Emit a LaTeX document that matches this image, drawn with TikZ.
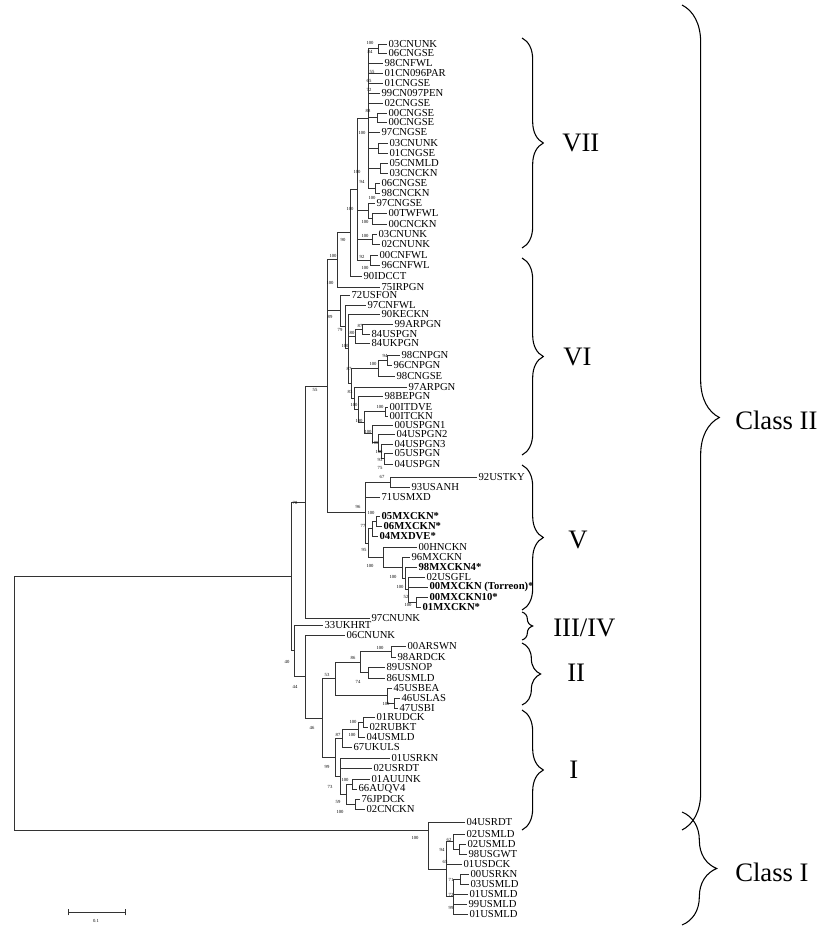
\documentclass[tikz,border=0pt]{standalone}
\usepackage{fontspec}
\setmainfont{Liberation Serif}
\usetikzlibrary{calc,decorations.pathreplacing}

\tikzset{
  branch/.style={line width=0.6pt, black!80},
  leaf/.style={anchor=west, inner sep=1pt, font=\fontsize{8}{8}\selectfont},
  mx/.style={leaf, font=\fontsize{8}{8}\selectfont\bfseries},
  boot/.style={inner sep=0pt, font=\fontsize{3.5}{3.5}\selectfont},
  grp/.style={decorate, decoration={brace, amplitude=#1}, line width=0.8pt},
  grplabel/.style={anchor=west, inner sep=0pt, font=\fontsize{20}{20}\selectfont},
}

% clade: name, x of its vertical, children (first and last set the span)
\newcommand\clade[3]{%
  \foreach \ch [count=\i] in {#3} {%
    \ifnum\i=1 \xdef\cfirst{\ch}\fi
    \xdef\clast{\ch}}%
  \coordinate (#1) at ($(\cfirst)!0.5!(\clast)$);
  \coordinate (#1) at (#2,0 |- #1);
  \foreach \ch in {#3} \draw[branch] (#1) |- (\ch);
}

\begin{document}
\begin{tikzpicture}[x=0.75pt, y=-0.75pt]
  \useasboundingbox (0,0) rectangle (838,935);

  % leaves
  \foreach \nm/\x/\y/\lbl in {
    a1/387/44/03CNUNK, a2/387/53/06CNGSE, a3/383/63/98CNFWL,
    a4/383/73/01CN096PAR, a5/383/83/01CNGSE, a6/380/93/99CN097PEN,
    a7/383/103/02CNGSE, a8/387/113/00CNGSE, a9/387/122/00CNGSE,
    a10/380/132/97CNGSE, a11/388/143/03CNUNK, a12/388/153/01CNGSE,
    a13/388/163/05CNMLD, a14/388/173/03CNCKN, a15/380/183/06CNGSE,
    a16/380/193/98CNCKN, a17/375/203/97CNGSE, a18/387/213/00TWFWL,
    a19/387/224/00CNCKN, a20/377/234/03CNUNK, a21/380/244/02CNUNK,
    a22/378/255/00CNFWL, a23/380/265/96CNFWL, a24/362/276/90IDCCT,
    a25/380/287/75IRPGN,
    b1/350/295/72USFON, b2/366/305/97CNFWL, b3/380/314/90KECKN,
    b4/393/324/99ARPGN, b5/370/334/84USPGN, b6/370/343/84UKPGN,
    b7/400/355/98CNPGN, b8/392/365/96CNPGN, b9/395/376/98CNGSE,
    b10/407/387/97ARPGN, b11/383/396/98BEPGN, b12/388/407/00ITDVE,
    b13/388/416/00ITCKN, b14/393/425/00USPGN1, b15/395/434/04USPGN2,
    b16/393/444/04USPGN3, b17/393/453/05USPGN, b18/393/464/04USPGN,
    c1/477/477/92USTKY, c2/410/487/93USANH, c3/380/497/71USMXD,
    c7/417/547/00HNCKN, c8/410/557/96MXCKN, c10/425/577/02USGFL,
    d1/370/618/97CNUNK, d2/323/625/33UKHRT, d3/345/635/06CNUNK,
    e1/406/646/00ARSWN, e2/396/657/98ARDCK, e3/385/667/89USNOP,
    e4/385/678/86USMLD, e5/392/688/45USBEA, e6/400/698/46USLAS,
    e7/398/708/47USBI,
    f1/375/717/01RUDCK, f2/368/727/02RUBKT, f3/365/737/04USMLD,
    f4/352/747/67UKULS, f5/390/758/01USRKN, f6/372/768/02USRDT,
    f7/370/779/01AUUNK, f8/357/789/66AUQV4, f9/360/799/76JPDCK,
    f10/365/809/02CNCKN,
    g1/465/822/04USRDT, g2/465/834/02USMLD, g3/466/844/02USMLD,
    g4/467/854/98USGWT, g5/462/864/01USDCK, g6/469/874/00USRKN,
    g7/469/884/03USMLD, g8/468/894/01USMLD, g9/467/904/99USMLD,
    g10/468/914/01USMLD}
    \node[leaf] (\nm) at (\x,\y) {\lbl};
  \foreach \nm/\x/\y/\lbl in {
    c4/380/516/05MXCKN*, c5/382/526/06MXCKN*, c6/378/536/04MXDVE*,
    c9/417/567/98MXCKN4*, c11/428/587/00MXCKN (Torreon)*,
    c12/428/597/00MXCKN10*, c13/421/607/01MXCKN*}
    \node[mx] (\nm) at (\x,\y) {\lbl};

  % VII
  \clade{p1}{378}{a1,a2}
  \clade{p2}{377}{a8,a9}
  \clade{p3}{378}{a11,a12}
  \clade{p4}{380}{a13,a14}
  \clade{p5}{375}{a15,a16}
  \clade{nG}{368}{p1,a3,a4,a5,a6,a7,p2,a10,p3,p4,p5}
  \clade{pH}{372}{a18,a19}
  \clade{nH}{368}{a17,pH}
  \clade{nJ}{372}{a20,a21}
  \clade{nK}{370}{a22,a23}
  \clade{nVII}{357}{nG,nH,nJ,nK}
  \clade{n362}{350}{nVII,a24}
  \clade{n337}{337}{n362,a25}
  % VI
  \clade{vi87}{362}{b4,b5}
  \clade{vi3}{355}{vi87,b6}
  \clade{vi94}{387}{b7,b8}
  \clade{vi94g}{378}{vi94,b9}
  \clade{viit}{385}{b12,b13}
  \clade{vius4}{384}{b17,b18}
  \clade{vius3}{381}{b16,vius4}
  \clade{vius2}{378}{b15,vius3}
  \clade{vius}{372}{b14,vius2}
  \clade{vi100b}{364}{viit,vius}
  \clade{vi100a}{358}{b11,vi100b}
  \clade{vi83}{354}{b10,vi100a}
  \clade{vi4}{351}{vi94g,vi83}
  \clade{vi2}{348}{b3,vi3,vi4}
  \clade{vi1}{345}{b2,vi2}
  \clade{vi0}{340}{b1,vi1}
  % V
  \clade{nF}{416}{c12,c13}
  \clade{nE}{408}{c10,c11,nF}
  \clade{nD}{405}{c9,nE}
  \clade{nC}{402}{c8,nD}
  \clade{nB}{383}{c7,nC}
  \clade{nMX56}{376}{c4,c5}
  \clade{nMX}{372}{nMX56,c6}
  \clade{nA}{368}{nMX,nB}
  \clade{n67}{390}{c1,c2}
  \clade{nV}{365}{n67,c3,nA}
  \clade{n327}{327}{n337,vi0,nV}
  \clade{n305a}{305}{n327,d1}
  % II
  \clade{pAR}{391}{e1,e2}
  \clade{pUS}{368}{e3,e4}
  \clade{n86}{360}{pAR,pUS}
  \clade{pLA}{394}{e6,e7}
  \clade{n45}{387}{e5,pLA}
  \clade{n53}{335}{n86,n45}
  % I
  \clade{cRU2}{363}{f1,f2}
  \clade{cRU}{358}{cRU2,f3}
  \clade{c87}{342}{cRU,f4}
  \clade{c100}{352}{f7,f8}
  \clade{c59}{355}{f9,f10}
  \clade{c73}{346}{c100,c59}
  \clade{c99}{340}{f5,f6,c73}
  \clade{cI}{335}{c87,c99}
  \clade{n322}{322}{n53,cI}
  \clade{n305b}{305}{d3,n322}
  \clade{n294}{294}{d2,n305b}
  \clade{n291}{291}{n305a,n294}
  % Class I
  \clade{k62b}{459}{g3,g4}
  \clade{k62}{453}{g2,k62b}
  \clade{k00}{460}{g6,g7}
  \clade{k65}{453}{k00,g8,g9,g10}
  \clade{k1}{446}{k62,g5,k65}
  \coordinate (cls1) at (428,830);
  \foreach \ch in {g1,k1} \draw[branch] (cls1) |- (\ch);

  \coordinate (root) at (14,700);
  \draw[branch] (root) |- (n291);
  \draw[branch] (root) |- (cls1);

  % bootstrap values
  \foreach \x/\y/\v [count=\i] in {
    370/43/100, 370/52/84, 372/72/55, 369/81/65, 369/90/72, 368/111/88,
    362/133/100, 357/172/100, 362/182/94, 372/198/100, 350/209/100,
    365/222/100, 365/236/100, 362/257/92, 365/268/100, 343/240/90,
    333/256/100, 330/283/100, 330/317/89, 340/330/79, 360/326/87,
    352/333/80, 345/346/100, 385/356/94, 373/364/100, 349/369/87,
    350/392/83, 354/405/100, 380/407/100, 359/421/100, 368/432/100,
    375/443/100, 379/452/100, 380/460/93, 380/468/75, 315/390/55,
    382/477/67, 358/507/96, 371/513/100, 363/526/77, 364/550/95,
    370/566/100, 393/577/100, 400/587/100, 406/597/52, 408/605/100,
    295/503/78, 287/662/40, 295/687/44, 312/728/46, 327/675/53,
    380/648/100, 353/658/86, 358/682/74, 386/704/100,
    353/722/100, 352/735/100, 338/735/87, 327/767/99, 330/787/73,
    345/780/100, 338/802/59, 340/812/100,
    415/838/100, 449/840/62, 442/850/94, 445/862/65, 451/880/71,
    451/895/72, 451/908/99}
    \node[boot] (bs\i) at (\x,\y) {\v};

  % groups
  \draw[grp=16pt] (522,38) -- (522,248);
  \node[grplabel] (lVII) at (562,143) {VII};
  \draw[grp=16pt] (522,258) -- (522,455);
  \node[grplabel] (lVI) at (563,357) {VI};
  \draw[grp=16pt] (522,465) -- (522,610);
  \node[grplabel] (lV) at (568,540) {V};
  \draw[grp=8pt] (522,612) -- (522,640);
  \node[grplabel] (lIII) at (553,628) {III/IV};
  \draw[grp=14pt] (522,643) -- (522,705);
  \node[grplabel] (lII) at (567,673) {II};
  \draw[grp=16pt] (522,710) -- (522,830);
  \node[grplabel] (lI) at (569,770) {I};
  \draw[grp=28pt] (682,5) -- (682,830);
  \node[grplabel] (lC2) at (735,420) {Class II};
  \draw[grp=26pt] (682,812) -- (682,925);
  \node[grplabel] (lC1) at (735,872) {Class I};

  % scale bar
  \coordinate (sb1) at (68,912);
  \coordinate (sb2) at (125,912);
  \draw[branch] (sb1) -- (sb2);
  \draw[branch] ([yshift=-2.5pt]sb1) -- ([yshift=2.5pt]sb1);
  \draw[branch] ([yshift=-2.5pt]sb2) -- ([yshift=2.5pt]sb2);
  \node[boot] (sbl) at (96,921) {0.1};
\end{tikzpicture}
\end{document}
